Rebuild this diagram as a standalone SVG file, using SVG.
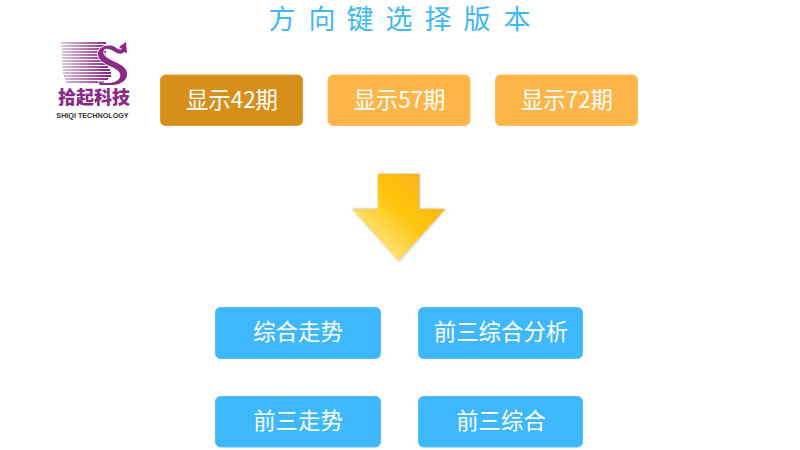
<svg xmlns="http://www.w3.org/2000/svg" width="800" height="450" viewBox="0 0 800 450">
<style>
text{font-family:"Noto Sans CJK SC","Noto Sans",sans-serif;text-anchor:middle}
.l{font-size:22.400px;fill:#fff;font-weight:400}
.t{font-family:"Liberation Sans","Noto Sans CJK SC",sans-serif;font-size:27px;fill:#3fb8f5;font-weight:400}
.b{fill:#3fb8fb;stroke:#55c0fb;stroke-width:1}
.o{fill:#fdb549;stroke:#fdbd60;stroke-width:1}
.s{stroke:url(#fade);stroke-width:1.8}
</style>
<defs>
<linearGradient id="arrow" x1="0" y1="1" x2="1" y2="0">
<stop offset="0.08" stop-color="#ffedb0"/><stop offset="0.55" stop-color="#ffc60a"/><stop offset="1" stop-color="#fba91f"/>
</linearGradient>
<linearGradient id="fade" gradientUnits="userSpaceOnUse" x1="60" y1="0" x2="106" y2="0">
<stop offset="0" stop-color="#a04a9c" stop-opacity="0.3"/><stop offset="1" stop-color="#8a2a86"/>
</linearGradient>
<filter id="sh" x="-10%" y="-10%" width="120%" height="120%"><feDropShadow dx="0.500" dy="0" stdDeviation="1.200" flood-color="#000" flood-opacity="0.4"/></filter>
</defs>
<rect width="800" height="450" fill="#fff"/>
<g id="title"><text class="t" x="282" y="29">方</text><text class="t" x="322" y="29">向</text><text class="t" x="360" y="29">键</text><text class="t" x="399" y="29">选</text><text class="t" x="438" y="29">择</text><text class="t" x="477" y="29">版</text><text class="t" x="517" y="29">本</text></g>
<g id="logo">
<path class="s" d="M61 43H106M61 46H106M62 49H106M62 52H106M62 55H106M62 58H106M62 61H106M62 64H106M62 67H108M63 70H110M63 73H111M64 76H111M65 79H108M66 82H104" fill="none"/>
<path d="M113 46C104 44 97 49 98 55C99 62 108 65 114 68C120 71 122 75 119 79C115 84 105 84 98 81L100 85H112C122 85 128 79 127 73C126 66 117 63 111 60C105 57 102 54 104 50C106 47 112 50 117 53C120 54 122 54 124 52L127 53L126 42L119 47L122 49C120 51 117 48 113 46Z" fill="#8a2a86" stroke="#fff" stroke-width="1.500" paint-order="stroke"/>
<text x="94" y="104" style="font-size:18px;font-weight:900;fill:#8a2a86">拾起科技</text>
<text x="92.500" y="118" style="font-family:'Liberation Sans',sans-serif;font-size:7.200px;font-weight:700;fill:#333">SHIQI TECHNOLOGY</text>
</g>
<g id="n1"><rect x="160.500" y="75" width="142" height="50.500" rx="5" fill="#d68f1a" stroke="#dc9c33"/><text class="l" x="232" y="108">显示42期</text></g>
<g id="n2"><rect class="o" x="328" y="75" width="142" height="50.500" rx="5"/><text class="l" x="399.500" y="108">显示57期</text></g>
<g id="n3"><rect class="o" x="495.500" y="75" width="142" height="50.500" rx="5"/><text class="l" x="567" y="108">显示72期</text></g>
<g id="arrow-shape"><path d="M378 174H419V209H445L398.500 261L352 209H378Z" fill="url(#arrow)" filter="url(#sh)"/></g>
<g id="n4"><rect class="b" x="215.500" y="307.500" width="165" height="51" rx="5"/><text class="l" x="298" y="340">综合走势</text></g>
<g id="n5"><rect class="b" x="418.500" y="307.500" width="164" height="51" rx="5"/><text class="l" x="501" y="340">前三综合分析</text></g>
<g id="n6"><rect class="b" x="215.500" y="396.500" width="165" height="50.500" rx="5"/><text class="l" x="298" y="429">前三走势</text></g>
<g id="n7"><rect class="b" x="418.500" y="396.500" width="164" height="50.500" rx="5"/><text class="l" x="501" y="429">前三综合</text></g>
<g id="connectors"></g>
</svg>
